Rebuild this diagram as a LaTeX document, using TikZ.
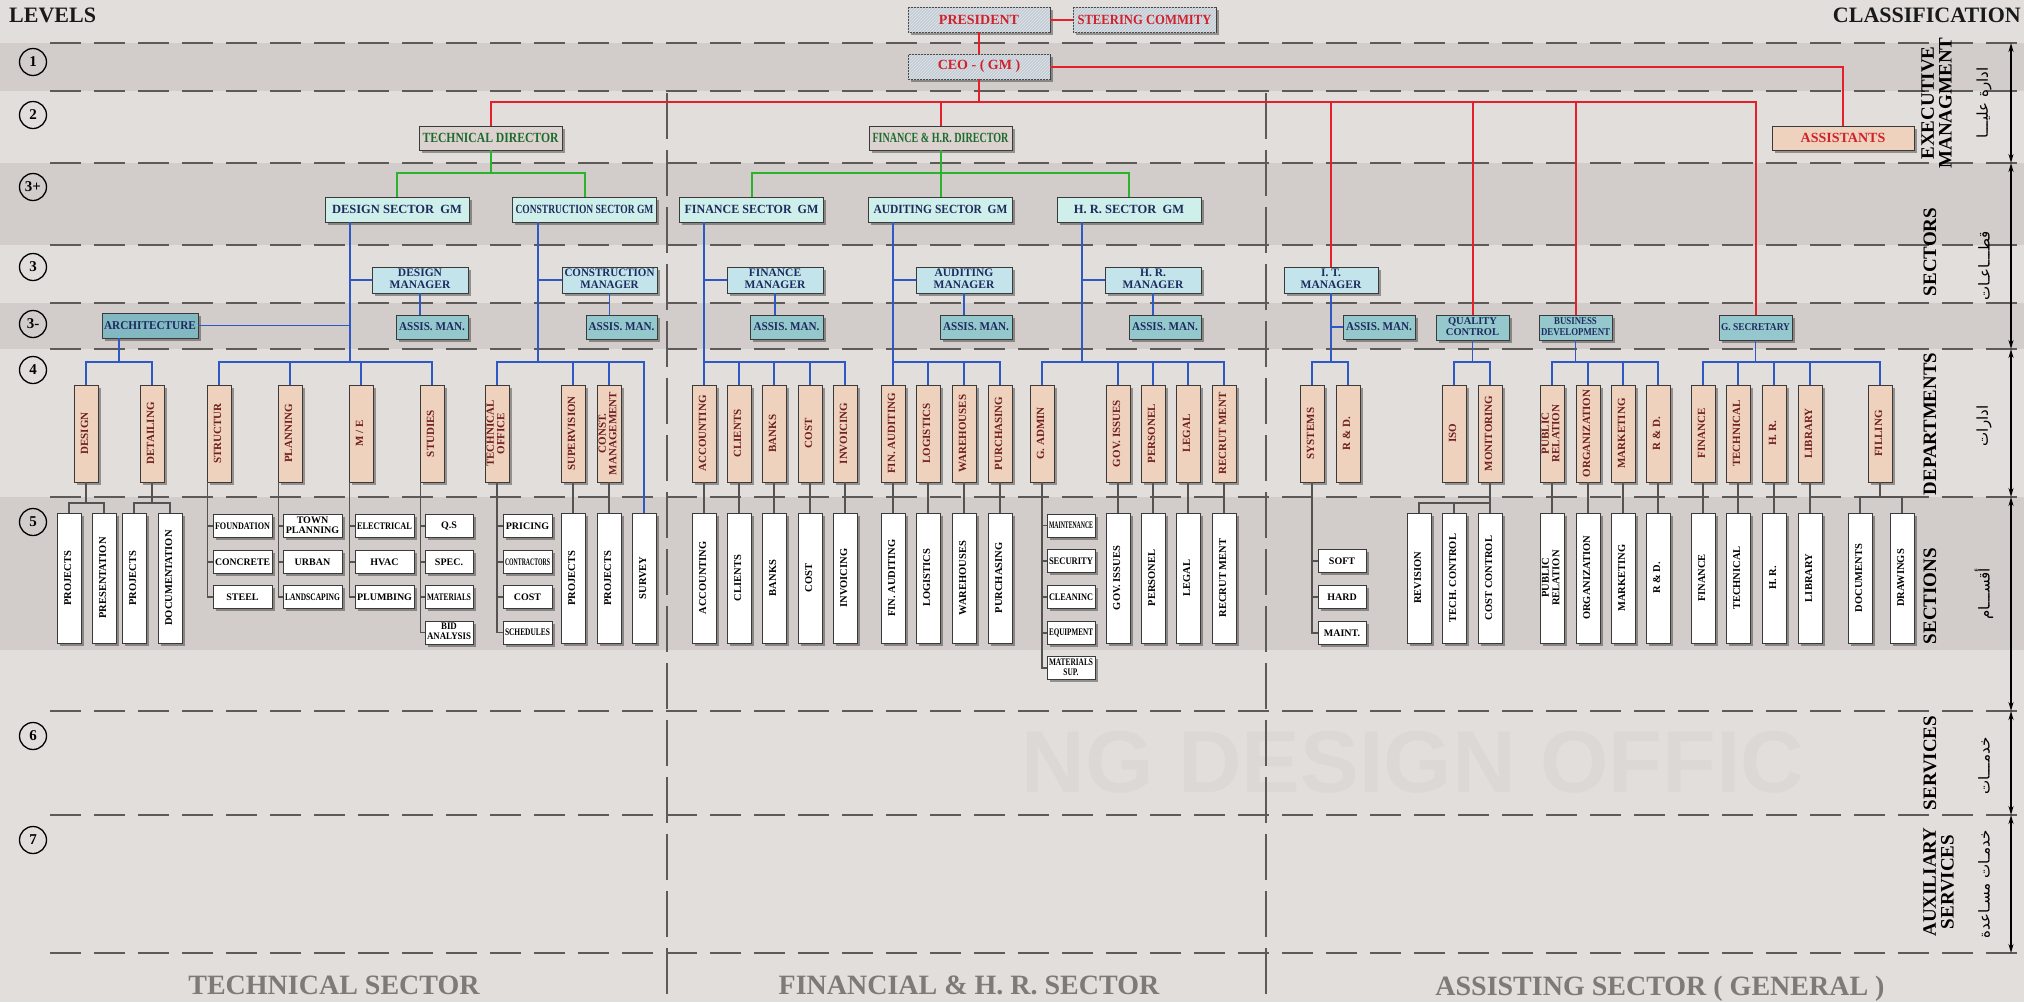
\documentclass[tikz,border=0pt]{standalone}
\usepackage{fontspec}
\setmainfont{Liberation Serif}
\newfontfamily\arabicfont[Script=Arabic]{DejaVu Sans}
\newfontfamily\markfont{Liberation Sans}
\TeXXeTstate=1
\usepackage{graphicx}
\usetikzlibrary{shadows}
\usetikzlibrary{patterns}
\usetikzlibrary{arrows.meta}
\definecolor{bgcol}{HTML}{E2DEDB}
\definecolor{bandcol}{HTML}{D2CDCA}
\definecolor{dashcol}{HTML}{5E5A58}
\definecolor{topfill}{HTML}{C3CBD5}
\definecolor{topred}{HTML}{D0222B}
\definecolor{dirfill}{HTML}{DCD2D0}
\definecolor{dirgreen}{HTML}{1C6A2C}
\definecolor{gmfill}{HTML}{CFEFEA}
\definecolor{mgrfill}{HTML}{C2E4EA}
\definecolor{asfill}{HTML}{95C8CD}
\definecolor{archfill}{HTML}{82B8C1}
\definecolor{navy}{HTML}{1D2B5E}
\definecolor{deptfill}{HTML}{EFD2BE}
\definecolor{deptred}{HTML}{6E1E1E}
\definecolor{redline}{HTML}{E4202A}
\definecolor{greenline}{HTML}{2AB42E}
\definecolor{blueline}{HTML}{2D58C6}
\definecolor{grayline}{HTML}{555352}
\definecolor{boxline}{HTML}{3A3A3A}
\definecolor{sectorgray}{HTML}{7D7A78}
% squeeze a label sideways when it is wider than the box
\newsavebox\fitbox
\newcommand\fit[2]{\sbox\fitbox{#2}\ifdim\wd\fitbox>#1\relax\resizebox{#1}{\height}{\usebox\fitbox}\else\usebox\fitbox\fi}
\newcommand\ml[1]{\begin{tabular}{@{}c@{}}#1\end{tabular}}
\newcommand\dtext[1]{\rotatebox{90}{\fit{88pt}{\ml{#1}}}}
\newcommand\stext[1]{\rotatebox{90}{\fit{122pt}{\ml{#1}}}}

\begin{document}
\begin{tikzpicture}[x=1pt, y=-1pt,
    orgbox/.style={draw=boxline, line width=0.8pt, inner sep=0pt, drop shadow={shadow xshift=2.5pt, shadow yshift=-2.5pt, opacity=0.35, fill=black}},
    topbox/.style={orgbox, fill=topfill, text=topred, minimum width=142pt, minimum height=25pt, font=\bfseries\fontsize{14}{14}\selectfont, postaction={pattern=north east lines, pattern color=white!50!topfill}},
    assistbox/.style={orgbox, fill=deptfill, text=topred, minimum width=142pt, minimum height=24pt, font=\bfseries\fontsize{14}{14}\selectfont},
    dirbox/.style={orgbox, fill=dirfill, text=dirgreen, minimum width=143pt, minimum height=24pt, font=\bfseries\fontsize{14}{14}\selectfont},
    gmbox/.style={orgbox, fill=gmfill, text=navy, minimum width=144pt, minimum height=25pt, font=\bfseries\fontsize{12.5}{12.5}\selectfont},
    mgrbox/.style={orgbox, fill=mgrfill, text=navy, minimum width=96pt, minimum height=26pt, font=\bfseries\fontsize{11.5}{12}\selectfont},
    asbox/.style={orgbox, fill=asfill, text=navy, minimum width=72pt, minimum height=24pt, font=\bfseries\fontsize{12}{12}\selectfont},
    archbox/.style={asbox, fill=archfill, minimum width=96pt, minimum height=25pt},
    supbox/.style={asbox, minimum width=73pt, minimum height=25pt, font=\bfseries\fontsize{10.5}{11}\selectfont},
    dept/.style={orgbox, fill=deptfill, text=deptred, minimum width=24pt, minimum height=97pt, font=\bfseries\fontsize{11}{10.5}\selectfont},
    sect/.style={orgbox, fill=white, text=black, minimum width=24pt, minimum height=130pt, font=\bfseries\fontsize{10.5}{10.5}\selectfont},
    secsmall/.style={orgbox, fill=white, text=black, minimum width=59pt, minimum height=23pt, font=\bfseries\fontsize{10}{10}\selectfont},
    secnarrow/.style={secsmall, minimum width=48pt},
    lvl/.style={circle, draw=black, line width=1.3pt, minimum size=27pt, inner sep=0pt, font=\bfseries\fontsize{15}{15}\selectfont},
    headtext/.style={inner sep=0pt, text=black!90, font=\bfseries\fontsize{22}{22}\selectfont},
    cls/.style={rotate=90, inner sep=0pt, font=\bfseries\fontsize{19}{17}\selectfont},
    arab/.style={rotate=90, inner sep=0pt, font=\arabicfont\fontsize{15}{15}\selectfont},
    sector/.style={inner sep=0pt, text=sectorgray, font=\bfseries\fontsize{28}{28}\selectfont},
    rl/.style={draw=redline, line width=2pt},
    gr/.style={draw=greenline, line width=2pt},
    bl/.style={draw=blueline, line width=1.8pt},
    gl/.style={draw=grayline, line width=1.2pt},
    lvlline/.style={draw=dashcol, line width=1.8pt, dash pattern=on 31pt off 13pt},
    sepline/.style={draw=dashcol, line width=1.2pt, dash pattern=on 46pt off 11pt},
    dimarr/.style={draw=black, line width=1.4pt, {Stealth[length=9pt,width=5pt]}-{Stealth[length=9pt,width=5pt]}}]

  % background and level bands
  \useasboundingbox (0,0) rectangle (2024,1002);
  \fill[bgcol] (0,0) rectangle (2024,1002);
  \fill[bandcol] (0,43) rectangle (2024,91);
  \fill[bandcol] (0,163) rectangle (2024,245);
  \fill[bandcol] (0,303) rectangle (2024,349);
  \fill[bandcol] (0,497) rectangle (2024,650);
  \node[text=black, text opacity=0.025, font=\markfont\bfseries\fontsize{88}{88}\selectfont] (wmark) at (1413,762) {NG DESIGN OFFIC};

  \draw[lvlline] (50,43) -- (2022,43);
  \draw[lvlline] (50,91) -- (2022,91);
  \draw[lvlline] (50,163) -- (2022,163);
  \draw[lvlline] (50,245) -- (2022,245);
  \draw[lvlline] (50,303) -- (2022,303);
  \draw[lvlline] (50,349) -- (2022,349);
  \draw[lvlline] (50,497) -- (2022,497);
  \draw[lvlline] (50,711) -- (2022,711);
  \draw[lvlline] (50,815) -- (2022,815);
  \draw[lvlline] (50,953) -- (2022,953);
  \draw[sepline] (667,93) -- (667,1002);
  \draw[sepline] (1266,93) -- (1266,1002);

  % levels
  \node[headtext, anchor=west] (levels) at (9,15) {LEVELS};
  \node[headtext, anchor=east] (classif) at (2021,15) {CLASSIFICATION};
  \node[lvl] (lv1) at (33,62) {1};
  \node[lvl] (lv2) at (33,115) {2};
  \node[lvl] (lv3p) at (33,187) {3+};
  \node[lvl] (lv3) at (33,267) {3};
  \node[lvl] (lv3m) at (33,324) {3-};
  \node[lvl] (lv4) at (33,370) {4};
  \node[lvl] (lv5) at (33,522) {5};
  \node[lvl] (lv6) at (33,736) {6};
  \node[lvl] (lv7) at (33,840) {7};

  % classification column
  \coordinate (k0) at (2011,43);
  \coordinate (k1) at (2011,163);
  \coordinate (k2) at (2011,349);
  \coordinate (k3) at (2011,497);
  \coordinate (k4) at (2011,711);
  \coordinate (k5) at (2011,815);
  \coordinate (k6) at (2011,953);
  \draw[dimarr] (k0) -- (k1);
  \draw[dimarr] (k1) -- (k2);
  \draw[dimarr] (k2) -- (k3);
  \draw[dimarr] (k3) -- (k4);
  \draw[dimarr] (k4) -- (k5);
  \draw[dimarr] (k5) -- (k6);
  \node[cls] (cexec) at (1939,103) {\ml{EXECUTIVE\\MANAGMENT}};
  \node[cls] (csect) at (1930,252) {SECTORS};
  \node[cls] (cdept) at (1930,424) {\fit{142pt}{DEPARTMENTS}};
  \node[cls] (csecn) at (1930,596) {SECTIONS};
  \node[cls] (cserv) at (1930,763) {SERVICES};
  \node[cls] (caux) at (1941,882) {\ml{AUXILIARY\\SERVICES}};
  \node[arab] (aexec) at (1984,103) {\beginR ادارة عليـــا\endR};
  \node[arab] (asect) at (1984,266) {\beginR قطـــاعـات\endR};
  \node[arab] (adept) at (1984,426) {\beginR ادارات\endR};
  \node[arab] (asecn) at (1984,594) {\beginR أقســـام\endR};
  \node[arab] (aserv) at (1984,766) {\beginR خدمـــات\endR};
  \node[arab] (aaux) at (1984,884) {\beginR خدمـات مسـاعدة\endR};

  % sector names
  \node[sector] (tsec) at (334,985) {TECHNICAL SECTOR};
  \node[sector] (fsec) at (969,985) {FINANCIAL \& H. R. SECTOR};
  \node[sector] (asec) at (1660,989) {ASSISTING SECTOR ( GENERAL )};

  % top management
  \node[topbox] (pres) at (979,19.5) {PRESIDENT};
  \node[topbox, minimum width=143pt] (steer) at (1144.5,19.5) {\fit{134pt}{STEERING COMMITY}};
  \node[topbox] (ceo) at (979,66.5) {CEO - ( GM )};
  \node[assistbox] (assist) at (1843,138) {ASSISTANTS};
  \node[dirbox] (tdir) at (490.5,138) {\fit{136pt}{TECHNICAL DIRECTOR}};
  \node[dirbox] (fdir) at (940.5,138) {\fit{136pt}{FINANCE \& H.R. DIRECTOR}};

  % sectors
  \node[gmbox] (dsgm) at (397,209.5) {\fit{132pt}{DESIGN SECTOR\ \ GM}};
  \node[gmbox] (csgm) at (584.5,209.5) {\fit{138pt}{CONSTRUCTION SECTOR GM}};
  \node[gmbox] (fingm) at (751.5,209.5) {\fit{134pt}{FINANCE SECTOR\ \ GM}};
  \node[gmbox] (audgm) at (940.5,209.5) {\fit{134pt}{AUDITING SECTOR\ \ GM}};
  \node[gmbox] (hrgm) at (1129,209.5) {\fit{134pt}{H. R. SECTOR\ \ GM}};

  \node[mgrbox] (dmgr) at (420,280) {\fit{90pt}{\ml{DESIGN\\MANAGER}}};
  \node[mgrbox, minimum width=95pt] (cmgr) at (609.5,280) {\fit{90pt}{\ml{CONSTRUCTION\\MANAGER}}};
  \node[mgrbox] (fmgr) at (775,280) {\fit{90pt}{\ml{FINANCE\\MANAGER}}};
  \node[mgrbox] (amgr) at (964,280) {\fit{90pt}{\ml{AUDITING\\MANAGER}}};
  \node[mgrbox] (hmgr) at (1153,280) {\fit{90pt}{\ml{H. R.\\MANAGER}}};
  \node[mgrbox, minimum width=94pt] (itm) at (1331,280) {\fit{90pt}{\ml{I. T.\\MANAGER}}};

  \node[asbox] (dasm) at (432,327) {\fit{66pt}{ASSIS. MAN.}};
  \node[asbox, minimum width=71pt] (casm) at (621.5,327) {\fit{66pt}{ASSIS. MAN.}};
  \node[asbox, minimum width=73pt] (fasm) at (786.5,327) {\fit{66pt}{ASSIS. MAN.}};
  \node[asbox] (aasm) at (976,327) {\fit{66pt}{ASSIS. MAN.}};
  \node[asbox] (hasm) at (1165,327) {\fit{66pt}{ASSIS. MAN.}};
  \node[asbox] (itasm) at (1379,327) {\fit{66pt}{ASSIS. MAN.}};
  \node[archbox] (arch) at (150,325.5) {\fit{92pt}{ARCHITECTURE}};
  \node[supbox] (qc) at (1472.5,327.5) {\fit{68pt}{\ml{QUALITY\\CONTROL}}};
  \node[supbox] (bd) at (1575.5,327.5) {\fit{69pt}{\ml{BUSINESS\\DEVELOPMENT}}};
  \node[supbox] (gsec) at (1755.5,327.5) {\fit{69pt}{G. SECRETARY}};

  % departments
  \node[dept] (design) at (86,433.5) {\dtext{DESIGN}};
  \node[dept] (detailing) at (152,433.5) {\dtext{DETAILING}};
  \node[dept] (structur) at (219,433.5) {\dtext{STRUCTUR}};
  \node[dept] (planning) at (290,433.5) {\dtext{PLANNING}};
  \node[dept] (mande) at (361,433.5) {\dtext{M / E}};
  \node[dept] (studies) at (432,433.5) {\dtext{STUDIES}};
  \node[dept] (techoff) at (497,433.5) {\dtext{TECHNICAL\\OFFICE}};
  \node[dept] (superv) at (573,433.5) {\dtext{SUPERVISION}};
  \node[dept] (constm) at (609,433.5) {\dtext{CONST.\\MANAGEMENT}};
  \node[dept] (accounting) at (704,433.5) {\dtext{ACCOUNTING}};
  \node[dept] (clients) at (739,433.5) {\dtext{CLIENTS}};
  \node[dept] (banks) at (774,433.5) {\dtext{BANKS}};
  \node[dept] (cost) at (810,433.5) {\dtext{COST}};
  \node[dept] (invoicing) at (845,433.5) {\dtext{INVOICING}};
  \node[dept] (finaud) at (893,433.5) {\dtext{FIN. AUDITING}};
  \node[dept] (logistics) at (928,433.5) {\dtext{LOGISTICS}};
  \node[dept] (warehouses) at (964,433.5) {\dtext{WAREHOUSES}};
  \node[dept] (purchasing) at (1000,433.5) {\dtext{PURCHASING}};
  \node[dept] (gadmin) at (1042,433.5) {\dtext{G. ADMIN}};
  \node[dept] (govissues) at (1118,433.5) {\dtext{GOV. ISSUES}};
  \node[dept] (personel) at (1153,433.5) {\dtext{PERSONEL}};
  \node[dept] (legal) at (1188,433.5) {\dtext{LEGAL}};
  \node[dept] (recruit) at (1224,433.5) {\dtext{RECRUT MENT}};
  \node[dept] (systems) at (1312,433.5) {\dtext{SYSTEMS}};
  \node[dept] (itrnd) at (1348,433.5) {\dtext{R \& D.}};
  \node[dept] (iso) at (1454,433.5) {\dtext{ISO}};
  \node[dept] (monit) at (1490,433.5) {\dtext{MONITORING}};
  \node[dept] (pubrel) at (1552,433.5) {\dtext{PUBLIC\\RELATION}};
  \node[dept] (organiz) at (1588,433.5) {\dtext{ORGANIZATION}};
  \node[dept] (marketing) at (1623,433.5) {\dtext{MARKETING}};
  \node[dept] (bdrnd) at (1658,433.5) {\dtext{R \& D.}};
  \node[dept] (gfin) at (1703,433.5) {\dtext{FINANCE}};
  \node[dept] (gtech) at (1738,433.5) {\dtext{TECHNICAL}};
  \node[dept] (ghr) at (1774,433.5) {\dtext{H. R.}};
  \node[dept] (library) at (1810,433.5) {\dtext{LIBRARY}};
  \node[dept] (filling) at (1880,433.5) {\dtext{FILLING}};

  % sections
  \node[sect] (sproj1) at (69,578) {\stext{PROJECTS}};
  \node[sect] (spres) at (104,578) {\stext{PRESENTATION}};
  \node[sect] (sproj2) at (134,578) {\stext{PROJECTS}};
  \node[sect] (sdoc) at (170,578) {\stext{DOCUMENTATION}};
  \node[sect] (sproj3) at (573,578) {\stext{PROJECTS}};
  \node[sect] (sproj4) at (609,578) {\stext{PROJECTS}};
  \node[sect] (survey) at (644,578) {\stext{SURVEY}};
  \node[sect] (sacc) at (704,578) {\stext{ACCOUNTING}};
  \node[sect] (scli) at (739,578) {\stext{CLIENTS}};
  \node[sect] (sbank) at (774,578) {\stext{BANKS}};
  \node[sect] (scost) at (810,578) {\stext{COST}};
  \node[sect] (sinv) at (845,578) {\stext{INVOICING}};
  \node[sect] (sfina) at (893,578) {\stext{FIN. AUDITING}};
  \node[sect] (slog) at (928,578) {\stext{LOGISTICS}};
  \node[sect] (sware) at (964,578) {\stext{WAREHOUSES}};
  \node[sect] (spur) at (1000,578) {\stext{PURCHASING}};
  \node[sect] (sgov) at (1118,578) {\stext{GOV. ISSUES}};
  \node[sect] (spers) at (1153,578) {\stext{PERSONEL}};
  \node[sect] (slegal) at (1188,578) {\stext{LEGAL}};
  \node[sect] (srec) at (1224,578) {\stext{RECRUT MENT}};
  \node[sect] (srev) at (1419,578) {\stext{REVISION}};
  \node[sect] (stechc) at (1454,578) {\stext{TECH. CONTROL}};
  \node[sect] (scostc) at (1490,578) {\stext{COST CONTROL}};
  \node[sect] (spub) at (1552,578) {\stext{PUBLIC\\RELATION}};
  \node[sect] (sorg) at (1588,578) {\stext{ORGANIZATION}};
  \node[sect] (smark) at (1623,578) {\stext{MARKETING}};
  \node[sect] (srnd) at (1658,578) {\stext{R \& D.}};
  \node[sect] (sfin) at (1703,578) {\stext{FINANCE}};
  \node[sect] (stech) at (1738,578) {\stext{TECHNICAL}};
  \node[sect] (shr) at (1774,578) {\stext{H. R.}};
  \node[sect] (slib) at (1810,578) {\stext{LIBRARY}};
  \node[sect] (sdocs) at (1860,578) {\stext{DOCUMENTS}};
  \node[sect] (sdraw) at (1902,578) {\stext{DRAWINGS}};

  \node[secsmall] (foundation) at (242.5,526) {\fit{55pt}{FOUNDATION}};
  \node[secsmall] (concrete) at (242.5,562) {\fit{55pt}{CONCRETE}};
  \node[secsmall] (steel) at (242.5,597) {STEEL};
  \node[secsmall] (townpl) at (312.5,526) {\fit{55pt}{\ml{TOWN\\PLANNING}}};
  \node[secsmall] (urban) at (312.5,562) {URBAN};
  \node[secsmall] (landsc) at (312.5,597) {\fit{55pt}{LANDSCAPING}};
  \node[secsmall] (electr) at (384.5,526) {\fit{55pt}{ELECTRICAL}};
  \node[secsmall] (hvac) at (384.5,562) {HVAC};
  \node[secsmall] (plumb) at (384.5,597) {\fit{55pt}{PLUMBING}};
  \node[secnarrow] (qs) at (449,526) {Q.S};
  \node[secnarrow] (spec) at (449,562) {SPEC.};
  \node[secnarrow] (mater) at (449,597) {\fit{44pt}{MATERIALS}};
  \node[secnarrow] (bid) at (449,632.5) {\fit{44pt}{\ml{BID\\ANALYSIS}}};
  \node[secnarrow, minimum width=49pt] (pricing) at (527.5,526) {\fit{45pt}{PRICING}};
  \node[secnarrow, minimum width=49pt] (contr) at (527.5,562) {\fit{45pt}{CONTRACTORS}};
  \node[secnarrow, minimum width=49pt] (tcost) at (527.5,597) {COST};
  \node[secnarrow, minimum width=49pt] (sched) at (527.5,632.5) {\fit{45pt}{SCHEDULES}};
  \node[secnarrow] (maint) at (1071,525.5) {\fit{44pt}{MAINTENANCE}};
  \node[secnarrow] (secur) at (1071,561) {\fit{44pt}{SECURITY}};
  \node[secnarrow] (clean) at (1071,597) {\fit{44pt}{CLEANINC}};
  \node[secnarrow] (equip) at (1071,633) {\fit{44pt}{EQUIPMENT}};
  \node[secnarrow] (matsup) at (1071,668) {\fit{44pt}{\ml{MATERIALS\\SUP.}}};
  \node[secnarrow] (soft) at (1342,561) {SOFT};
  \node[secnarrow] (hard) at (1342,597) {HARD};
  \node[secnarrow] (maintit) at (1342,633) {MAINT.};

  % red links
  \coordinate (rb) at (979,102);
  \draw[rl] (pres.east) -- (steer.west);
  \draw[rl] (pres.south) -- (ceo.north);
  \draw[rl] (ceo.south) -- (rb);
  \draw[rl] (ceo.east) -| (assist.north);
  \draw[rl] (tdir.north) |- (rb) -| (gsec.north);
  \draw[rl] (fdir.north) -- (fdir.north |- rb);
  \draw[rl] (itm.north) -- (itm.north |- rb);
  \draw[rl] (qc.north) -- (qc.north |- rb);
  \draw[rl] (bd.north) -- (bd.north |- rb);

  % green links
  \coordinate (tg) at (490.5,173);
  \coordinate (fg) at (940.5,173);
  \draw[gr] (tdir.south) -- (tg);
  \draw[gr] (dsgm.north) |- (tg) -| (csgm.north);
  \draw[gr] (fdir.south) -- (audgm.north);
  \draw[gr] (fingm.north) |- (fg) -| (hrgm.north);

  % blue links, design
  \coordinate (dt) at (350,362);
  \coordinate (at) at (119,362);
  \draw[bl] (dt |- dsgm.south) -- (dt);
  \draw[bl] (dmgr.west) -- (dmgr.west -| dt);
  \draw[bl] (dmgr.south) -- (dmgr.south |- dasm.north);
  \draw[bl] (arch.east) -- (arch.east -| dt);
  \draw[bl] (structur.north) |- (dt) -| (studies.north);
  \draw[bl] (planning.north) -- (planning.north |- dt);
  \draw[bl] (mande.north) -- (mande.north |- dt);
  \draw[bl] (at |- arch.south) -- (at);
  \draw[bl] (design.north) |- (at) -| (detailing.north);

  % blue links, construction
  \coordinate (ct) at (538,362);
  \draw[bl] (ct |- csgm.south) -- (ct);
  \draw[bl] (cmgr.west) -- (cmgr.west -| ct);
  \draw[bl] (cmgr.south) -- (cmgr.south |- casm.north);
  \draw[bl] (techoff.north) |- (ct) -| (survey.north);
  \draw[bl] (superv.north) -- (superv.north |- ct);
  \draw[bl] (constm.north) -- (constm.north |- ct);

  % blue links, finance
  \coordinate (ft) at (704,362);
  \draw[bl] (ft |- fingm.south) -- (ft);
  \draw[bl] (fmgr.west) -- (fmgr.west -| ft);
  \draw[bl] (fmgr.south) -- (fmgr.south |- fasm.north);
  \draw[bl] (accounting.north) |- (ft) -| (invoicing.north);
  \draw[bl] (clients.north) -- (clients.north |- ft);
  \draw[bl] (banks.north) -- (banks.north |- ft);
  \draw[bl] (cost.north) -- (cost.north |- ft);

  % blue links, auditing
  \coordinate (aut) at (893,362);
  \draw[bl] (aut |- audgm.south) -- (aut);
  \draw[bl] (amgr.west) -- (amgr.west -| aut);
  \draw[bl] (amgr.south) -- (amgr.south |- aasm.north);
  \draw[bl] (finaud.north) |- (aut) -| (purchasing.north);
  \draw[bl] (logistics.north) -- (logistics.north |- aut);
  \draw[bl] (warehouses.north) -- (warehouses.north |- aut);

  % blue links, h.r.
  \coordinate (ht) at (1082,362);
  \draw[bl] (ht |- hrgm.south) -- (ht);
  \draw[bl] (hmgr.west) -- (hmgr.west -| ht);
  \draw[bl] (hmgr.south) -- (hmgr.south |- hasm.north);
  \draw[bl] (gadmin.north) |- (ht) -| (recruit.north);
  \draw[bl] (govissues.north) -- (govissues.north |- ht);
  \draw[bl] (personel.north) -- (personel.north |- ht);
  \draw[bl] (legal.north) -- (legal.north |- ht);

  % blue links, assisting sector
  \coordinate (itt) at (1331,362);
  \coordinate (qt) at (1472.5,362);
  \coordinate (bt) at (1575.5,362);
  \coordinate (gt) at (1755.5,362);
  \draw[bl] (itm.south) -- (itt);
  \draw[bl] (itasm.west) -- (itasm.west -| itt);
  \draw[bl] (systems.north) |- (itt) -| (itrnd.north);
  \draw[bl] (qc.south) -- (qt);
  \draw[bl] (iso.north) |- (qt) -| (monit.north);
  \draw[bl] (bd.south) -- (bt);
  \draw[bl] (pubrel.north) |- (bt) -| (bdrnd.north);
  \draw[bl] (organiz.north) -- (organiz.north |- bt);
  \draw[bl] (marketing.north) -- (marketing.north |- bt);
  \draw[bl] (gsec.south) -- (gt);
  \draw[bl] (gfin.north) |- (gt) -| (filling.north);
  \draw[bl] (gtech.north) -- (gtech.north |- gt);
  \draw[bl] (ghr.north) -- (ghr.north |- gt);
  \draw[bl] (library.north) -- (library.north |- gt);

  % gray links to the sections
  \coordinate (db) at (86,503);
  \coordinate (tb) at (152,503);
  \draw[gl] (design.south) -- (db);
  \draw[gl] (sproj1.north) |- (db) -| (spres.north);
  \draw[gl] (detailing.south) -- (tb);
  \draw[gl] (sproj2.north) |- (tb) -| (sdoc.north);

  \draw[gl] ([xshift=1pt]structur.south west) coordinate (sp1) |- (steel.west);
  \draw[gl] (sp1 |- foundation.west) -- (foundation.west);
  \draw[gl] (sp1 |- concrete.west) -- (concrete.west);
  \draw[gl] ([xshift=1pt]planning.south west) coordinate (sp2) |- (landsc.west);
  \draw[gl] (sp2 |- townpl.west) -- (townpl.west);
  \draw[gl] (sp2 |- urban.west) -- (urban.west);
  \draw[gl] ([xshift=1pt]mande.south west) coordinate (sp3) |- (plumb.west);
  \draw[gl] (sp3 |- electr.west) -- (electr.west);
  \draw[gl] (sp3 |- hvac.west) -- (hvac.west);
  \draw[gl] ([xshift=1pt]studies.south west) coordinate (sp4) |- (bid.west);
  \draw[gl] (sp4 |- qs.west) -- (qs.west);
  \draw[gl] (sp4 |- spec.west) -- (spec.west);
  \draw[gl] (sp4 |- mater.west) -- (mater.west);
  \draw[gl] (techoff.south) |- (sched.west);
  \draw[gl] (techoff.south |- pricing.west) -- (pricing.west);
  \draw[gl] (techoff.south |- contr.west) -- (contr.west);
  \draw[gl] (techoff.south |- tcost.west) -- (tcost.west);
  \draw[gl] (superv.south) -- (sproj3.north);
  \draw[gl] (constm.south) -- (sproj4.north);

  \draw[gl] (accounting.south) -- (sacc.north);
  \draw[gl] (clients.south) -- (scli.north);
  \draw[gl] (banks.south) -- (sbank.north);
  \draw[gl] (cost.south) -- (scost.north);
  \draw[gl] (invoicing.south) -- (sinv.north);
  \draw[gl] (finaud.south) -- (sfina.north);
  \draw[gl] (logistics.south) -- (slog.north);
  \draw[gl] (warehouses.south) -- (sware.north);
  \draw[gl] (purchasing.south) -- (spur.north);
  \draw[gl] (gadmin.south) |- (matsup.west);
  \draw[gl] (gadmin.south |- maint.west) -- (maint.west);
  \draw[gl] (gadmin.south |- secur.west) -- (secur.west);
  \draw[gl] (gadmin.south |- clean.west) -- (clean.west);
  \draw[gl] (gadmin.south |- equip.west) -- (equip.west);
  \draw[gl] (govissues.south) -- (sgov.north);
  \draw[gl] (personel.south) -- (spers.north);
  \draw[gl] (legal.south) -- (slegal.north);
  \draw[gl] (recruit.south) -- (srec.north);

  \coordinate (mb) at (1490,503);
  \coordinate (fb) at (1880,497);
  \draw[gl] (systems.south) |- (maintit.west);
  \draw[gl] (systems.south |- soft.west) -- (soft.west);
  \draw[gl] (systems.south |- hard.west) -- (hard.west);
  \draw[gl] (monit.south) -- (scostc.north);
  \draw[gl] (srev.north) |- (mb);
  \draw[gl] (stechc.north) -- (stechc.north |- mb);
  \draw[gl] (pubrel.south) -- (spub.north);
  \draw[gl] (organiz.south) -- (sorg.north);
  \draw[gl] (marketing.south) -- (smark.north);
  \draw[gl] (bdrnd.south) -- (srnd.north);
  \draw[gl] (gfin.south) -- (sfin.north);
  \draw[gl] (gtech.south) -- (stech.north);
  \draw[gl] (ghr.south) -- (shr.north);
  \draw[gl] (library.south) -- (slib.north);
  \draw[gl] (filling.south) -- (fb);
  \draw[gl] (sdocs.north) |- (fb) -| (sdraw.north);
\end{tikzpicture}
\end{document}
